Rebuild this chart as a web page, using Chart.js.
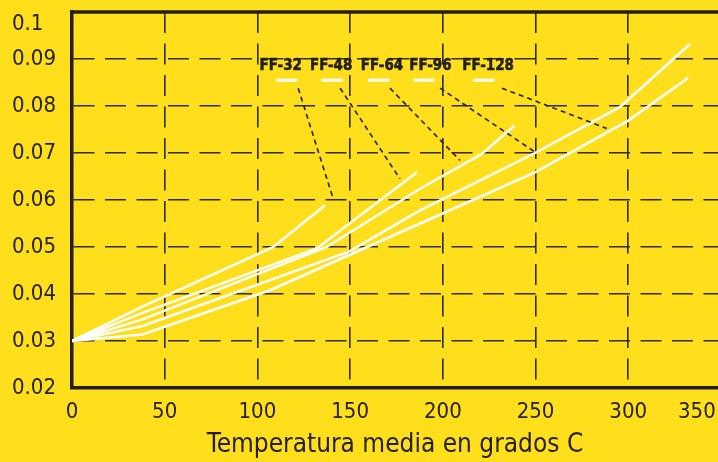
<!DOCTYPE html>
<html>
<head>
<meta charset="utf-8">
<script src="https://cdn.jsdelivr.net/npm/chart.js@4.4.0/dist/chart.umd.min.js"></script>
<style>
  html, body { margin: 0; padding: 0; background: #ffdf1c; }
</style>
</head>
<body>
<canvas id="myChart" width="718" height="462"></canvas>
<script>
// curves (temperatura, conductividad)
const seriesNames = ['FF-32', 'FF-48', 'FF-64', 'FF-96', 'FF-128'];

const ff32X = [0, 38, 108.6, 136.5];
const ff32Y = [0.03, 0.0373, 0.05, 0.0589];
const ff48X = [0, 38, 132, 186];
const ff48Y = [0.03, 0.036, 0.0497, 0.0659];
const ff64X = [0, 38, 137.4, 187.7, 221, 238.6];
const ff64Y = [0.03, 0.0346, 0.05, 0.0624, 0.0698, 0.0758];
const ff96X = [0, 38, 149.4, 187.7, 249.7, 295.6, 333.3];
const ff96Y = [0.03, 0.0332, 0.049, 0.0578, 0.07, 0.0798, 0.0932];
const ff128X = [0, 38, 106.8, 187.7, 249.7, 300, 332.4];
const ff128Y = [0.03, 0.0314, 0.0408, 0.055, 0.0659, 0.0769, 0.086];

// ejes
const xTickValues = [0, 50, 100, 150, 200, 250, 300, 337];
const xTickLabels = ['0', '50', '100', '150', '200', '250', '300', '350'];
const yTickLabels = ['0.02', '0.03', '0.04', '0.05', '0.06', '0.07', '0.08', '0.09', '0.1'];

// rotulos y lineas guia (en unidades de datos)
const labelX = [112.6, 139.8, 167.2, 193.3, 224.4];
const keyX = [115.8, 140.2, 165.4, 189.8, 222.1];
const leaderFromX = [122, 144.6, 171.5, 198.5, 231.9];
const leaderToX = [141, 176.9, 209.3, 249.7, 288.4];
const leaderToY = [0.0601, 0.0645, 0.0684, 0.0702, 0.0752];

const ink = '#231f20';
const gridInk = '#2e2b20';
const fontName = '"DejaVu Sans Condensed", "DejaVu Sans", sans-serif';
const tickFont = { family: fontName, size: 22, lineHeight: 1.1 };

const allX = [ff32X, ff48X, ff64X, ff96X, ff128X];
const allY = [ff32Y, ff48Y, ff64Y, ff96Y, ff128Y];

const calloutPlugin = {
  id: 'callouts',
  afterDatasetsDraw(chart) {
    const { ctx, chartArea, scales: { x, y } } = chart;
    ctx.save();
    // marco superior
    ctx.strokeStyle = ink;
    ctx.lineWidth = 3.5;
    ctx.beginPath();
    ctx.moveTo(chartArea.left - 1.75, chartArea.top);
    ctx.lineTo(chartArea.right, chartArea.top);
    ctx.stroke();

    // lineas guia punteadas
    ctx.lineWidth = 1.6;
    ctx.setLineDash([5, 4]);
    seriesNames.forEach((n, i) => {
      ctx.beginPath();
      ctx.moveTo(x.getPixelForValue(leaderFromX[i]), y.getPixelForValue(0.0838));
      ctx.lineTo(x.getPixelForValue(leaderToX[i]), y.getPixelForValue(leaderToY[i]));
      ctx.stroke();
    });
    ctx.setLineDash([]);

    // trazos blancos
    ctx.strokeStyle = '#ffffff';
    ctx.lineWidth = 3;
    keyX.forEach(v => {
      const px = x.getPixelForValue(v);
      const py = y.getPixelForValue(0.0855);
      ctx.beginPath();
      ctx.moveTo(px - 10.5, py);
      ctx.lineTo(px + 10.5, py);
      ctx.stroke();
    });

    // textos
    ctx.fillStyle = ink;
    ctx.strokeStyle = ink;
    ctx.lineWidth = 0.5;
    ctx.font = 'bold 15px ' + fontName;
    ctx.textAlign = 'center';
    ctx.textBaseline = 'middle';
    seriesNames.forEach((n, i) => {
      const px = x.getPixelForValue(labelX[i]);
      const py = y.getPixelForValue(0.0884);
      ctx.fillText(n, px, py);
      ctx.strokeText(n, px, py);
    });
    ctx.restore();
  }
};

const ctx = document.getElementById('myChart').getContext('2d');
const myChart = new Chart(ctx, {
  type: 'line',
  data: {
    datasets: seriesNames.map((name, i) => ({
      label: name,
      data: allX[i].map((v, j) => ({ x: v, y: allY[i][j] })),
      borderColor: '#ffffff',
      borderWidth: 2.5,
      pointRadius: 0,
      fill: false,
      tension: 0
    }))
  },
  options: {
    responsive: false,
    animation: false,
    layout: { padding: { left: 12, top: 12, right: 0, bottom: 0 } },
    plugins: { legend: { display: false }, tooltip: { enabled: false } },
    scales: {
      x: {
        type: 'linear',
        min: 0,
        max: 348.4,
        afterBuildTicks: s => { s.ticks = xTickValues.map(v => ({ value: v })); },
        afterFit: s => { s.height = 74; s.paddingRight = 0; },
        ticks: {
          autoSkip: false,
          maxRotation: 0,
          padding: 12,
          color: ink,
          font: tickFont,
          callback: (v, i) => xTickLabels[i]
        },
        grid: {
          drawTicks: false,
          lineWidth: 1.6,
          color: c => (c.tick && c.tick.value > 0 && c.tick.value < 320) ? gridInk : 'transparent'
        },
        border: { display: true, color: ink, width: 3.5, dash: [21, 10.5] },
        title: {
          display: true,
          text: 'Temperatura media en grados C',
          color: ink,
          font: { family: fontName, size: 26, lineHeight: 1.2 },
          padding: { top: 1, bottom: 1 }
        }
      },
      y: {
        min: 0.02,
        max: 0.1,
        afterFit: s => { s.width = 60; s.paddingTop = 0; },
        ticks: {
          stepSize: 0.01,
          autoSkip: false,
          crossAlign: 'far',
          color: ink,
          font: tickFont,
          // la etiqueta superior queda desplazada hacia abajo en el original
          callback: (v, i) => i === yTickLabels.length - 1 ? ['', yTickLabels[i]] : yTickLabels[i]
        },
        grid: {
          drawTicks: false,
          lineWidth: 1.6,
          color: c => (c.tick && c.tick.value > 0.025 && c.tick.value < 0.095) ? gridInk : 'transparent'
        },
        border: { display: true, color: ink, width: 3.5, dash: [21, 10.5] }
      }
    }
  },
  plugins: [calloutPlugin]
});
</script>
</body>
</html>
